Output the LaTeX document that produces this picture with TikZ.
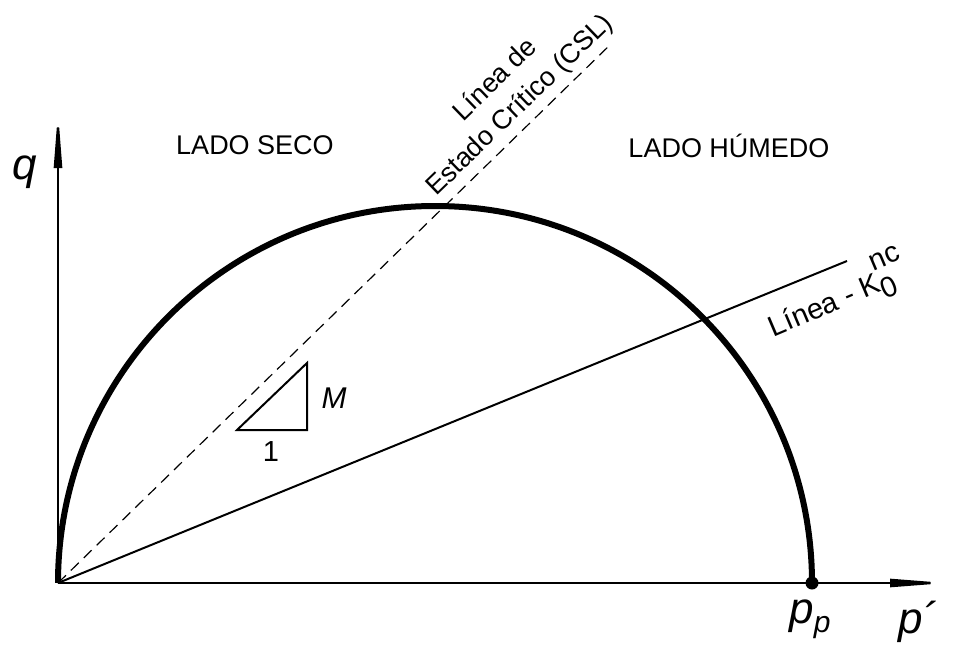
\documentclass[tikz,border=0pt]{standalone}
\usepackage{fontspec}
\setmainfont{Liberation Sans}
\usetikzlibrary{arrows.meta}
\tikzset{
  axis/.style={line width=2.4pt,-{Triangle[length=58pt,width=8pt]}},
  yieldcurve/.style={line width=6pt},
  csl/.style={line width=1.2pt,dash pattern=on 11pt off 7pt},
  kline/.style={line width=2pt},
  tri/.style={line width=2pt,line join=miter},
  txt/.style={font=\fontsize{27}{35}\selectfont,inner sep=0pt},
  big/.style={font=\fontsize{44}{44}\selectfont\itshape,inner sep=0pt}
}
\begin{document}
\begin{tikzpicture}[x=1pt,y=-1pt]
\useasboundingbox (0,0) rectangle (954,645);
% key points
\coordinate (O) at (58,583);
\coordinate (C) at (435,583);
\coordinate (Ytip) at (58,110);
\coordinate (Xtip) at (948,583);
\coordinate (Pp) at (812,583);
\coordinate (CSLend) at (612,43);
\coordinate (Kend) at (847,261);
% CSL and K0 lines
\draw[csl] (O) -- (CSLend);
\draw[kline] (O) -- (Kend);
% yield surface (semicircle)
\draw[yieldcurve] (O) arc[start angle=180,end angle=360,radius=377];
% axes
\draw[axis] (O) -- (Ytip);
\draw[axis] (O) -- (Xtip);
\fill (Pp) circle (6.5);
% triangle
\coordinate (T1) at (237,430);
\coordinate (T2) at (307,430);
\coordinate (T3) at (307,363);
\draw[tri] (T1) -- (T2) -- (T3) -- cycle;
\node[txt,font=\fontsize{30}{35}\selectfont\itshape] (Mlab) at (334,398) {M};
\node[txt,font=\fontsize{29}{35}\selectfont] (onelab) at (271,452) {1};
% labels
\node[big] (qlab) at (25,172) {q};
\node[big] (pplab) at (810,619) {p\raisebox{-9pt}{\fontsize{30}{30}\selectfont p}};
\node[big] (plab) at (918,622) {p´};
\node[txt] (seco) at (255,145) {LADO SECO};
\node[txt] (humedo) at (729,146) {LADO HÚMEDO};
\node[txt,align=center,rotate=44] (csllab) at (508,93) {Línea de\\Estado Crítico (CSL)};
\node[txt,font=\fontsize{29}{35}\selectfont,rotate=23] (klab) at (830,298) {Línea - K\makebox[0pt][l]{\raisebox{0.75em}{nc}}\raisebox{-0.3em}{0}\hspace{0.6em}};
\end{tikzpicture}
\end{document}
